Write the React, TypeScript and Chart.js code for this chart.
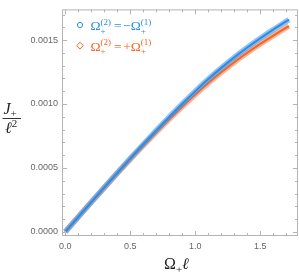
import { useEffect, useRef } from "react";
import { Chart, registerables } from "chart.js";

Chart.register(...registerables);

// ---- data ----
const omegaL = [0, 0.1, 0.2, 0.3, 0.4, 0.5, 0.6, 0.7, 0.8, 0.9, 1.0, 1.1, 1.2, 1.3, 1.4, 1.5, 1.6, 1.7, 1.72];
const jMinus = [0, 0.0001163, 0.0002323, 0.0003476, 0.0004618, 0.0005743, 0.0006851, 0.0007936, 0.0008994, 0.0010019, 0.0011007, 0.0011947, 0.0012827, 0.0013647, 0.0014417, 0.0015137, 0.0015817, 0.0016467, 0.0016595];
const jPlus = [0, 0.0001163, 0.0002313, 0.0003446, 0.0004568, 0.0005663, 0.0006741, 0.0007786, 0.0008804, 0.0009789, 0.0010737, 0.0011637, 0.0012477, 0.0013267, 0.0014007, 0.0014697, 0.0015347, 0.0015967, 0.0016085];

const xTicks = [0, 0.5, 1.0, 1.5];
const xTickLabels = ["0.0", "0.5", "1.0", "1.5"];
const yTicks = [0, 0.0005, 0.001, 0.0015];
const yTickLabels = ["0.0000", "0.0005", "0.0010", "0.0015"];
const xMinorStep = 0.1;
const yMinorStep = 0.0001;

const BLUE = "rgb(45,140,230)";
const BLUE_BAND = "rgba(70,155,235,0.6)";
const ORANGE = "rgb(245,100,35)";
const ORANGE_BAND = "rgba(250,120,60,0.55)";
const SERIF = '"Liberation Serif", "DejaVu Serif", serif';

type Run =
  | { t: string; size: number; dy?: number; italic?: boolean }
  | { sup: string; sub: string; size: number; supDy: number; subDy: number }
  | { gap: number };

function drawRuns(ctx: CanvasRenderingContext2D, x: number, y: number, runs: Run[], color: string) {
  ctx.save();
  ctx.fillStyle = color;
  ctx.textBaseline = "alphabetic";
  ctx.textAlign = "left";
  let cx = x;
  for (const r of runs) {
    if ("gap" in r) {
      cx += r.gap;
    } else if ("t" in r) {
      ctx.font = `${r.italic ? "italic " : ""}${r.size}px ${SERIF}`;
      ctx.fillText(r.t, cx, y + (r.dy || 0));
      cx += ctx.measureText(r.t).width;
    } else {
      ctx.font = `${r.size}px ${SERIF}`;
      const w1 = ctx.measureText(r.sup).width;
      const w2 = ctx.measureText(r.sub).width;
      ctx.fillText(r.sup, cx, y + r.supDy);
      ctx.fillText(r.sub, cx, y + r.subDy);
      cx += Math.max(w1, w2);
    }
  }
  ctx.restore();
  return cx;
}

const decorPlugin = {
  id: "decor",
  afterDraw(chart: any) {
    const ctx: CanvasRenderingContext2D = chart.ctx;
    const { left, right, top, bottom } = chart.chartArea;
    const xs = chart.scales.x;
    const ys = chart.scales.y;
    ctx.save();
    ctx.strokeStyle = "#b4b4b4";
    ctx.lineWidth = 1;
    ctx.strokeRect(left + 0.5, top + 0.5, right - left - 1, bottom - top - 1);
    ctx.beginPath();
    for (let k = 0; k * xMinorStep <= xs.max; k++) {
      const v = k * xMinorStep;
      const px = Math.round(xs.getPixelForValue(v)) + 0.5;
      const major = xTicks.some((t) => Math.abs(t - v) < 1e-9);
      const len = major ? 5 : 3;
      ctx.moveTo(px, bottom);
      ctx.lineTo(px, bottom - len);
      ctx.moveTo(px, top);
      ctx.lineTo(px, top + len);
    }
    for (let k = 0; k * yMinorStep <= ys.max; k++) {
      const v = k * yMinorStep;
      const py = Math.round(ys.getPixelForValue(v)) + 0.5;
      const major = yTicks.some((t) => Math.abs(t - v) < 1e-12);
      const len = major ? 5 : 3;
      ctx.moveTo(left, py);
      ctx.lineTo(left + len, py);
      ctx.moveTo(right, py);
      ctx.lineTo(right - len, py);
    }
    ctx.stroke();

    // legend markers
    ctx.strokeStyle = BLUE;
    ctx.lineWidth = 1;
    ctx.beginPath();
    ctx.arc(80, 25, 2.6, 0, Math.PI * 2);
    ctx.stroke();
    ctx.strokeStyle = ORANGE;
    ctx.beginPath();
    ctx.moveTo(80, 42.3);
    ctx.lineTo(83.4, 45.7);
    ctx.lineTo(80, 49.1);
    ctx.lineTo(76.6, 45.7);
    ctx.closePath();
    ctx.stroke();
    ctx.restore();

    const legendRun = (sign: string): Run[] => [
      { t: "Ω", size: 13.5 },
      { sup: "(2)", sub: "+", size: 9, supDy: -5.5, subDy: 3.5 },
      { gap: 3 },
      { t: "=", size: 13.5 },
      { gap: 1.5 },
      { t: sign, size: 13.5 },
      { t: "Ω", size: 13.5 },
      { sup: "(1)", sub: "+", size: 9, supDy: -5.5, subDy: 3.5 },
    ];
    drawRuns(ctx, 90.5, 30, legendRun("−"), BLUE);
    drawRuns(ctx, 90.5, 50.5, legendRun("+"), ORANGE);

    // x axis title
    drawRuns(
      ctx,
      164,
      269,
      [
        { t: "Ω", size: 16 },
        { t: "+", size: 11, dy: 3.5 },
        { t: "ℓ", size: 16, italic: true },
      ],
      "#222"
    );

    // y axis title (fraction)
    drawRuns(
      ctx,
      3.5,
      113.5,
      [
        { t: "J", size: 16, italic: true },
        { t: "+", size: 11, dy: 3.5 },
      ],
      "#222"
    );
    ctx.save();
    ctx.strokeStyle = "#333";
    ctx.lineWidth = 1;
    ctx.beginPath();
    ctx.moveTo(2.5, 118.5);
    ctx.lineTo(21, 118.5);
    ctx.stroke();
    ctx.restore();
    drawRuns(
      ctx,
      5,
      133,
      [
        { t: "ℓ", size: 16, italic: true },
        { t: "2", size: 11, dy: -6 },
      ],
      "#222"
    );
  },
};

function pts(ys: number[]) {
  return omegaL.map((x, i) => ({ x, y: ys[i] }));
}

export default function App() {
  const ref = useRef<HTMLCanvasElement | null>(null);
  useEffect(() => {
    if (!ref.current) return;
    const tickFont = { family: '"Liberation Sans", Arial, sans-serif', size: 9 };
    const line = { showLine: true, pointRadius: 0, cubicInterpolationMode: "monotone" };
    const chart = new Chart(ref.current, {
      type: "scatter",
      data: {
        datasets: [
          { ...line, data: pts(jPlus), borderColor: ORANGE_BAND, borderWidth: 5.5, order: 4 } as any,
          { ...line, data: pts(jPlus), borderColor: ORANGE, borderWidth: 2, order: 3 } as any,
          { ...line, data: pts(jMinus), borderColor: BLUE_BAND, borderWidth: 5.5, order: 2 } as any,
          { ...line, data: pts(jMinus), borderColor: BLUE, borderWidth: 2, order: 1 } as any,
        ],
      },
      options: {
        responsive: false,
        animation: false,
        devicePixelRatio: 1,
        layout: { padding: { top: 1, right: 1, left: 0, bottom: 0 } },
        plugins: { legend: { display: false }, tooltip: { enabled: false } },
        scales: {
          x: {
            type: "linear",
            min: -0.025,
            max: 1.79,
            grid: { display: false, drawTicks: false },
            border: { display: false },
            ticks: {
              padding: 5,
              font: tickFont,
              color: "#666",
              autoSkip: false,
              maxRotation: 0,
              callback: (v: any) => {
                const i = xTicks.findIndex((t) => Math.abs(t - Number(v)) < 1e-9);
                return i >= 0 ? xTickLabels[i] : "";
              },
            },
            afterBuildTicks: (s: any) => {
              s.ticks = xTicks.map((v) => ({ value: v }));
            },
            afterFit: (s: any) => {
              s.height = 40;
            },
          },
          y: {
            type: "linear",
            min: -0.0000323,
            max: 0.00174,
            grid: { display: false, drawTicks: false },
            border: { display: false },
            ticks: {
              padding: 4,
              font: tickFont,
              color: "#666",
              autoSkip: false,
              callback: (v: any) => {
                const i = yTicks.findIndex((t) => Math.abs(t - Number(v)) < 1e-12);
                return i >= 0 ? yTickLabels[i] : "";
              },
            },
            afterBuildTicks: (s: any) => {
              s.ticks = yTicks.map((v) => ({ value: v }));
            },
            afterFit: (s: any) => {
              s.width = 62;
            },
          },
        },
      },
      plugins: [decorPlugin],
    } as any);
    return () => chart.destroy();
  }, []);
  return (
    <div style={{ position: "fixed", left: 0, top: 0, width: 299, height: 276, background: "#fff" }}>
      <canvas ref={ref} width={299} height={276} style={{ display: "block" }} />
    </div>
  );
}
